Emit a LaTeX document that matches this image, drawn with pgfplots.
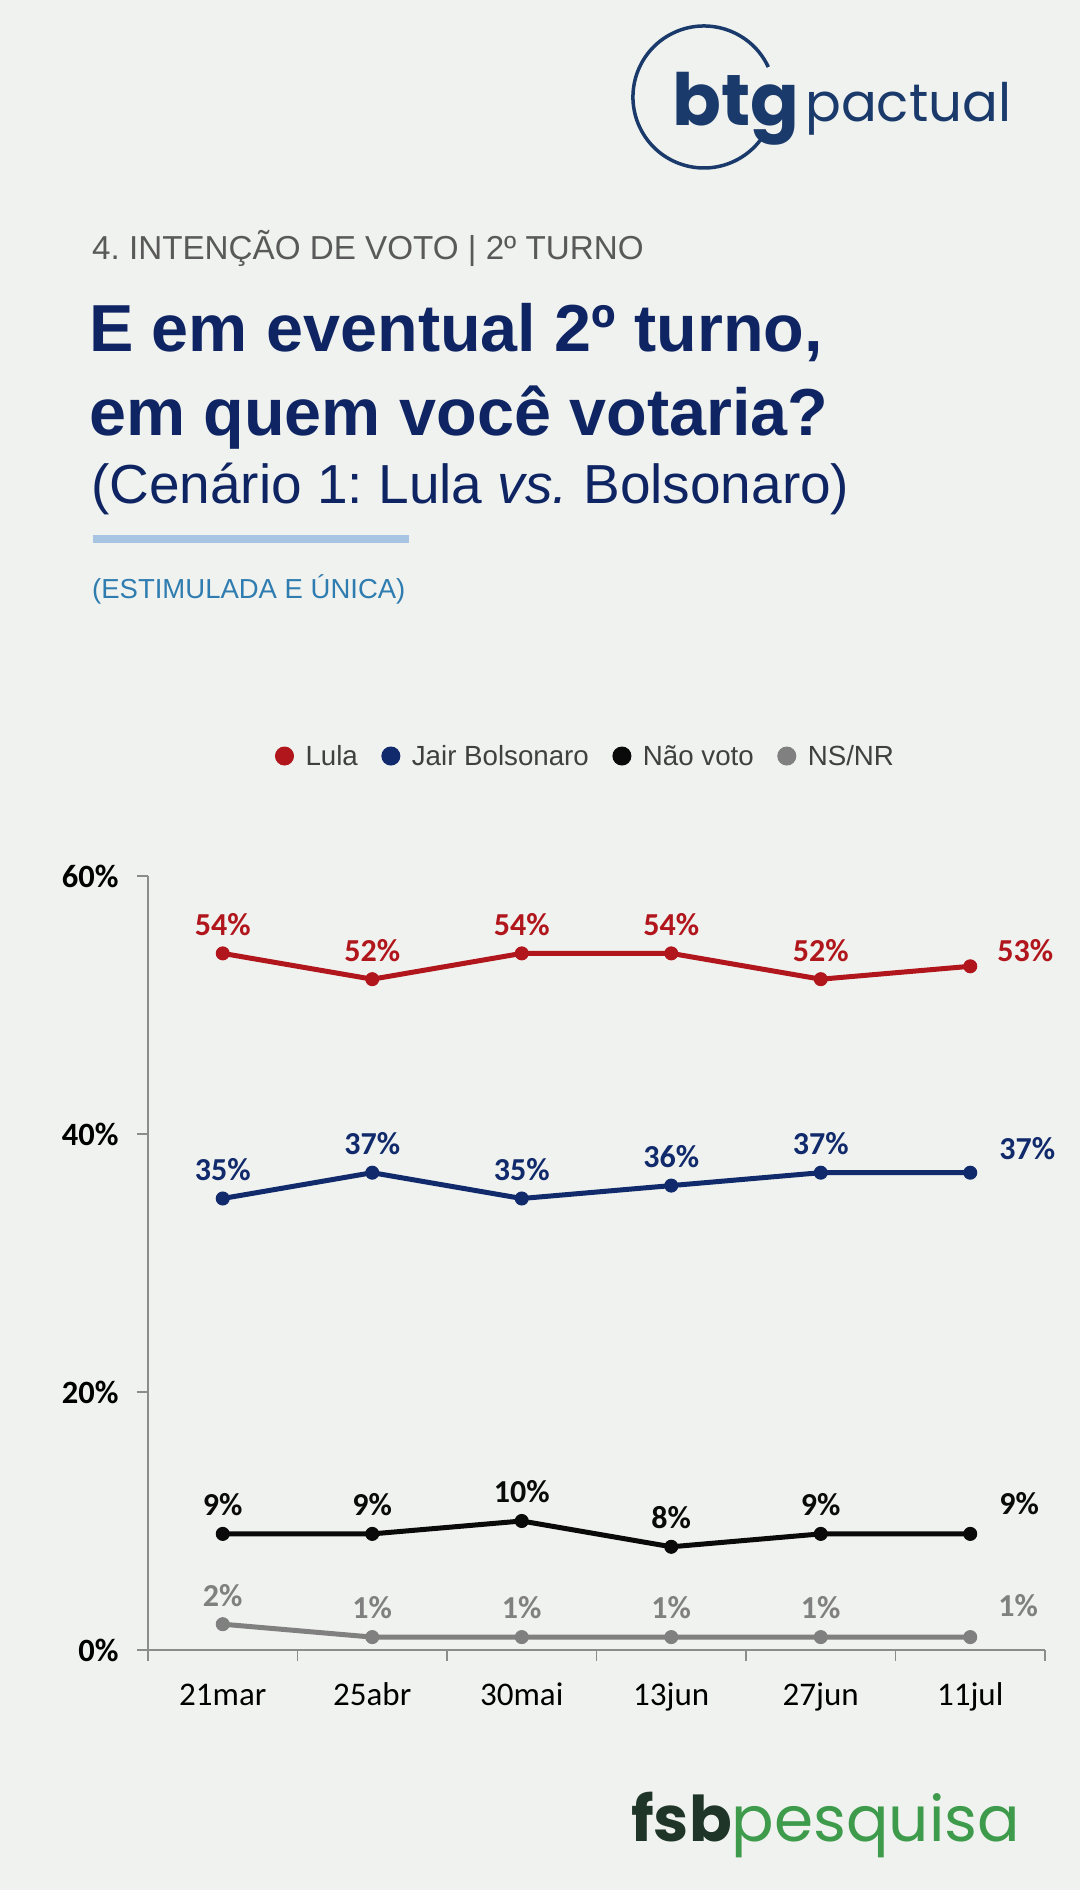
\documentclass[border=0pt]{standalone}
\usepackage{pgfplots}
\pgfplotsset{compat=1.18}
\usepackage{pgfplotstable}
\usepackage{fontspec}
\setmainfont{Liberation Sans}
\newfontfamily\calibri{Carlito}
\newfontfamily\poppins{Poppins}
\frenchspacing
\definecolor{bg}{HTML}{F0F2EF}
\definecolor{lula}{HTML}{B0161C}
\definecolor{bolso}{HTML}{102A6B}
\definecolor{nao}{HTML}{0A0A0A}
\definecolor{nsnr}{HTML}{808080}
\definecolor{titleblue}{HTML}{0F2563}
\definecolor{headergray}{HTML}{595959}
\definecolor{estim}{HTML}{2F7DB0}
\definecolor{barblue}{HTML}{A7C5E3}
\definecolor{legendtext}{HTML}{404040}
\definecolor{axisgray}{HTML}{8C8C8C}
\definecolor{logonavy}{HTML}{1A3A6B}
\definecolor{fsbdark}{HTML}{1E3527}
\definecolor{fsbgreen}{HTML}{3D9B4B}

\pgfplotstableread{
x lula bolso nao ns
0 54 35 9 2
1 52 37 9 1
2 54 35 10 1
3 54 36 8 1
4 52 37 9 1
5 53 37 9 1
}\data

\pgfplotsset{
  /pgf/number format/assume math mode=true,
  lab/.style={draw=none, mark=none, forget plot,
    restrict x to domain=0:4,
    nodes near coords={\pgfmathprintnumber{\pgfplotspointmeta}\%},
    every node near coord/.style={font=\calibri\bfseries\fontsize{32}{36}\selectfont, text=#1, anchor=center, yshift=29pt}},
  lastlab/.style n args={3}{draw=none, mark=none, forget plot,
    restrict x to domain=5:5,
    nodes near coords={\pgfmathprintnumber{\pgfplotspointmeta}\%},
    every node near coord/.style={font=\calibri\bfseries\fontsize{32}{36}\selectfont, text=#1, anchor=center, xshift=#2, yshift=#3}},
  ser/.style={color=#1, line width=5pt, mark=*, mark size=6.5pt, mark options={line width=1pt, solid, fill=#1}},
}

\begin{document}
\begin{tikzpicture}[x=1pt,y=1pt]
\fill[bg] (0,0) rectangle (1080,1890);
\useasboundingbox (0,0) rectangle (1080,1890);

% btg pactual logo
\draw[logonavy, line width=3.5pt] (768.3,1823) arc[start angle=25, end angle=324, radius=71];
\node[anchor=base west, inner sep=0, text=logonavy, font=\poppins\bfseries\fontsize{72}{80}\selectfont] at (672,1764) {btg};
\node[anchor=base west, inner sep=0, text=logonavy, font=\poppins\fontsize{53}{60}\selectfont] at (805,1768) {pactual};

% header and titles
\node[anchor=base west, inner sep=0, text=headergray, font=\fontsize{33.2}{36}\selectfont] at (92,1630) {4. INTENÇÃO DE VOTO | 2º TURNO};
\node[anchor=base west, inner sep=0, text=titleblue, font=\bfseries\fontsize{66.5}{70}\selectfont] at (89,1538) {E em eventual 2º turno,};
\node[anchor=base west, inner sep=0, text=titleblue, font=\bfseries\fontsize{66.5}{70}\selectfont] at (89,1454) {em quem você votaria?};
\node[anchor=base west, inner sep=0, text=titleblue, font=\fontsize{55}{60}\selectfont] at (91,1386) {(Cenário 1: Lula \textit{vs.} Bolsonaro)};
\fill[barblue] (93,1347) rectangle (409,1355);
\node[anchor=base west, inner sep=0, text=estim, font=\fontsize{27.5}{30}\selectfont] at (92,1291) {(ESTIMULADA E ÚNICA)};

% fsb pesquisa logo
\node[anchor=base west, inner sep=0, font=\poppins\fontsize{63}{70}\selectfont] at (631,48) {\textcolor{fsbdark}{\bfseries fsb}\textcolor{fsbgreen}{pesquisa}};

\begin{axis}[
  at={(148pt,240pt)}, anchor=south west,
  scale only axis, width=897pt, height=774pt,
  xmin=-0.5, xmax=5.5, ymin=0, ymax=60,
  axis lines*=left,
  axis line style={axisgray, line width=1.3pt},
  xtick={-0.5,0.5,1.5,2.5,3.5,4.5,5.5},
  x tick label as interval,
  xticklabels={21mar,25abr,30mai,13jun,27jun,11jul},
  ytick={0,20,40,60},
  yticklabels={0\%,20\%,40\%,60\%},
  tick align=outside, major tick length=11pt,
  tick style={axisgray, line width=1.3pt},
  xticklabel style={font=\calibri\fontsize{33}{36}\selectfont, text=black, yshift=-18pt, text height=23pt, text depth=7pt},
  yticklabel style={font=\calibri\bfseries\fontsize{32.5}{36}\selectfont, text=black, xshift=-15pt},
  clip=false,
  legend style={at={(0.488,1.155)}, anchor=center, draw=none, fill=none,
    font=\fontsize{27.7}{30}\selectfont, text=legendtext,
    /tikz/every even column/.append style={column sep=22pt},
    /tikz/every odd column/.append style={column sep=10pt}},
  legend columns=4,
  legend image code/.code={\draw[#1, line width=0.5pt, mark size=9pt] plot coordinates {(0pt,0pt)};},
]
\addplot[ser=lula] table[x=x,y=lula]{\data}; \addlegendentry{Lula}
\addplot[ser=bolso] table[x=x,y=bolso]{\data}; \addlegendentry{Jair Bolsonaro}
\addplot[ser=nao] table[x=x,y=nao]{\data}; \addlegendentry{Não voto}
\addplot[ser=nsnr] table[x=x,y=ns]{\data}; \addlegendentry{NS/NR}

\addplot[lab=lula] table[x=x,y=lula]{\data};
\addplot[lab=bolso] table[x=x,y=bolso]{\data};
\addplot[lab=nao] table[x=x,y=nao]{\data};
\addplot[lab=nsnr] table[x=x,y=ns]{\data};

\addplot[lastlab={lula}{55pt}{16pt}] table[x=x,y=lula]{\data};
\addplot[lastlab={bolso}{57pt}{24pt}] table[x=x,y=bolso]{\data};
\addplot[lastlab={nao}{49pt}{30pt}] table[x=x,y=nao]{\data};
\addplot[lastlab={nsnr}{48pt}{31pt}] table[x=x,y=ns]{\data};
\end{axis}
\end{tikzpicture}
\end{document}
